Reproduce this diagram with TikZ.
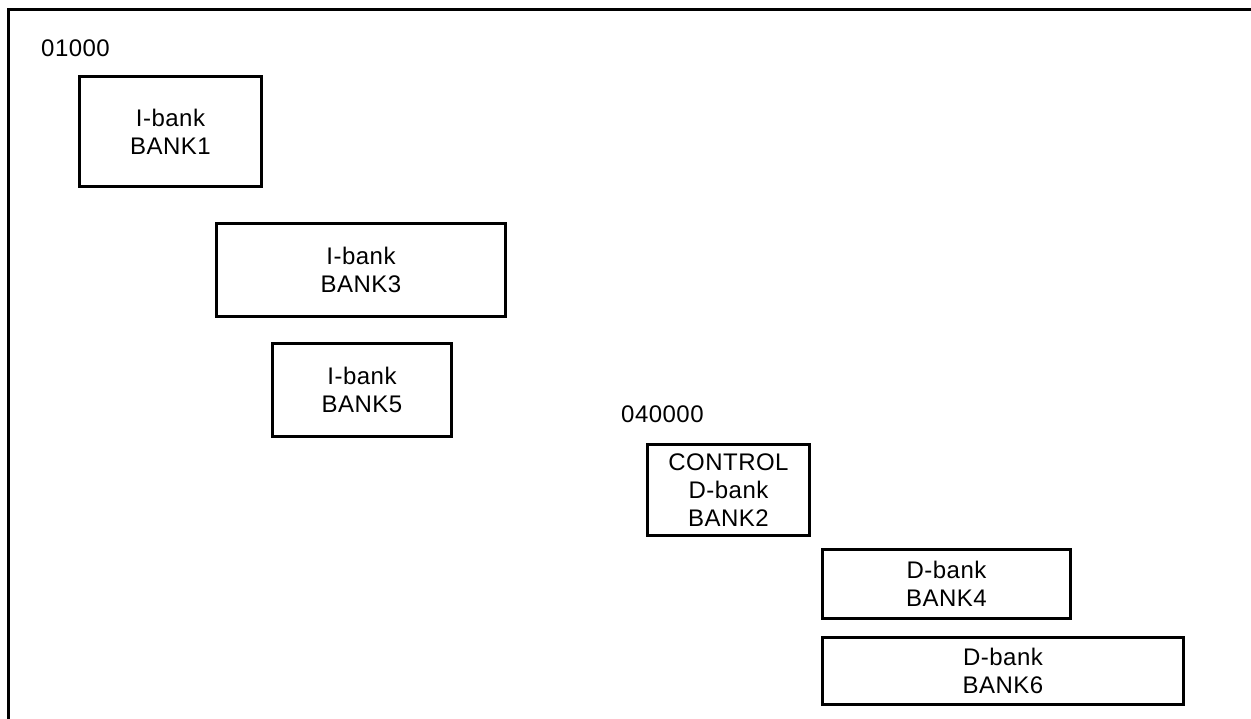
\documentclass[tikz,border=0pt]{standalone}
\usepackage{fontspec}
\setmainfont[LetterSpace=2]{Liberation Sans}
\begin{document}
\begin{tikzpicture}[x=1pt,y=-1pt,
  bankbox/.style={draw,line width=3.5pt,inner sep=0pt,align=center,
    font=\fontsize{24}{28}\selectfont},
  addr/.style={inner sep=0pt,anchor=base west,font=\fontsize{24}{28}\selectfont}]
\useasboundingbox (0,0) rectangle (1251,719);
\draw[line width=3.5pt] (1251,9.5) -- (8.5,9.5) -- (8.5,719);
\node[addr] (a1) at (41,57) {01000};
\node[addr] (a2) at (621,422) {040000};
\node[bankbox,minimum width=182pt,minimum height=110pt] (b1) at (170.5,131.5) {I-bank\\BANK1};
\node[bankbox,minimum width=289pt,minimum height=93pt] (b3) at (361,270) {I-bank\\BANK3};
\node[bankbox,minimum width=179pt,minimum height=93pt] (b5) at (362,390) {I-bank\\BANK5};
\node[bankbox,minimum width=162pt,minimum height=91pt] (b2) at (728.5,490) {CONTROL\\D-bank\\BANK2};
\node[bankbox,minimum width=248pt,minimum height=69pt] (b4) at (946.5,584) {D-bank\\BANK4};
\node[bankbox,minimum width=361pt,minimum height=67pt] (b6) at (1003,671) {D-bank\\BANK6};
\end{tikzpicture}
\end{document}
